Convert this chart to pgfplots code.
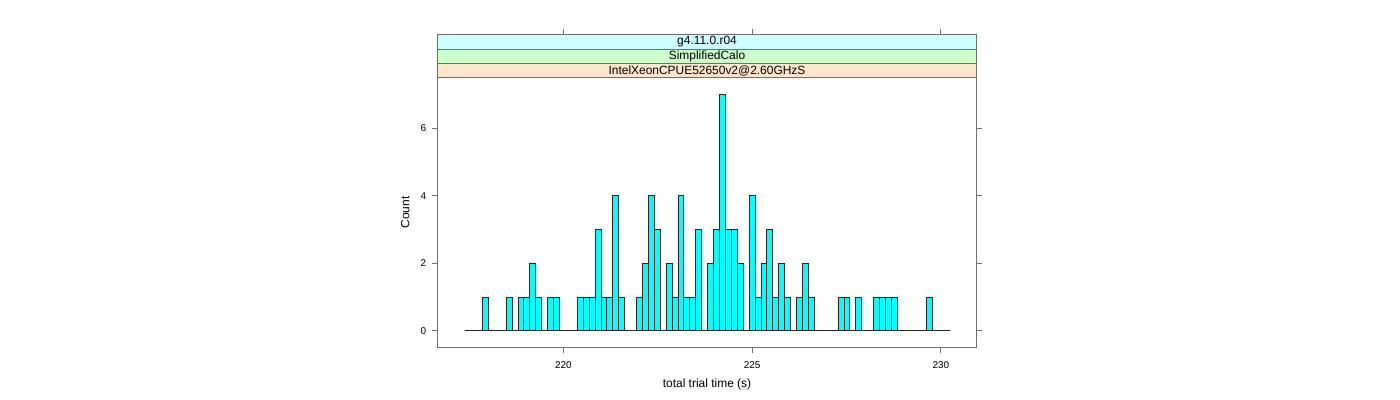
\documentclass[border=0pt]{standalone}
\usepackage{fontspec}
\setmainfont{Liberation Sans}
\usepackage{pgfplots}
\usepackage{pgfplotstable}
\pgfplotsset{compat=1.18}
\definecolor{stripA}{HTML}{FFE5CC}
\definecolor{stripB}{HTML}{CCFFCC}
\definecolor{stripC}{HTML}{CCFFFF}
\definecolor{barcyan}{RGB}{0,255,255}
\definecolor{axgray}{HTML}{6E6E6E}
\pgfplotstableread{
x count
217.381 0
217.538 0
217.695 0
217.852 1
218.009 0
218.166 0
218.323 0
218.480 1
218.637 0
218.794 1
218.951 1
219.108 2
219.265 1
219.422 0
219.579 1
219.736 1
219.893 0
220.050 0
220.207 0
220.364 1
220.521 1
220.678 1
220.835 3
220.992 1
221.149 1
221.306 4
221.463 1
221.620 0
221.777 0
221.934 1
222.091 2
222.248 4
222.405 3
222.562 0
222.719 2
222.876 1
223.033 4
223.190 1
223.347 1
223.504 3
223.661 0
223.818 2
223.975 3
224.132 7
224.289 3
224.446 3
224.603 2
224.760 0
224.917 4
225.074 1
225.231 2
225.388 3
225.545 1
225.702 2
225.859 1
226.016 0
226.173 1
226.330 2
226.487 1
226.644 0
226.801 0
226.958 0
227.115 0
227.272 1
227.429 1
227.586 0
227.743 1
227.900 0
228.057 0
228.214 1
228.371 1
228.528 1
228.685 1
228.842 0
228.999 0
229.156 0
229.313 0
229.470 0
229.627 1
229.784 0
229.941 0
230.098 0
230.255 0
}\histdata
\begin{document}
\begin{tikzpicture}
\useasboundingbox (0,0) rectangle (1400bp,400bp);
\begin{axis}[
  at={(437.3bp,52.7bp)}, anchor=south west,
  width=539.4bp, height=269.6bp, scale only axis,
  xmin=216.66, xmax=230.95, ymin=-0.49, ymax=7.49,
  xtick={220,225,230}, ytick={0,2,4,6},
  xtick pos=left, ytick pos=both, yticklabel pos=left,
  tick align=outside, major tick length=5.5bp,
  axis line style={axgray, line width=0.8bp},
  every tick/.style={axgray, line width=0.8bp},
  clip=false,
  /pgf/number format/assume math mode=true,
  ticklabel style={font=\fontsize{10}{12}\selectfont},
  xticklabel style={yshift=-5bp},
  yticklabel style={xshift=-2bp},
  xlabel={total trial time (s)}, ylabel={Count},
  label style={font=\fontsize{12}{14}\selectfont},
  xlabel style={at={([yshift=-37bp]axis description cs:0.5,0)}, anchor=center},
  ylabel style={at={([xshift=-32bp]axis description cs:0,0.5)}, anchor=center},
]
\addplot[ybar interval, fill=barcyan, draw=black!85, line width=0.6bp] table[x=x, y=count] {\histdata};
\draw[draw=axgray, fill=stripA, line width=0.7bp] (rel axis cs:0,1) rectangle ([yshift=14.2bp]rel axis cs:1,1);
\draw[draw=axgray, fill=stripB, line width=0.7bp] ([yshift=14.2bp]rel axis cs:0,1) rectangle ([yshift=28.6bp]rel axis cs:1,1);
\draw[draw=axgray, fill=stripC, line width=0.7bp] ([yshift=28.6bp]rel axis cs:0,1) rectangle ([yshift=43.4bp]rel axis cs:1,1);
\node[font=\fontsize{12}{14}\selectfont, inner sep=0pt] at ([yshift=7.1bp]rel axis cs:0.5,1) {IntelXeonCPUE52650v2@2.60GHzS};
\node[font=\fontsize{12}{14}\selectfont, inner sep=0pt] at ([yshift=21.4bp]rel axis cs:0.5,1) {SimplifiedCalo};
\node[font=\fontsize{12}{14}\selectfont, inner sep=0pt] at ([yshift=36bp]rel axis cs:0.5,1) {g4.11.0.r04};
\pgfplotsinvokeforeach{220,225,230}{
  \draw[axgray, line width=0.8bp] ([yshift=43.4bp]axis cs:#1,7.49) -- ([yshift=48.6bp]axis cs:#1,7.49);
}
\end{axis}
\end{tikzpicture}
\end{document}
